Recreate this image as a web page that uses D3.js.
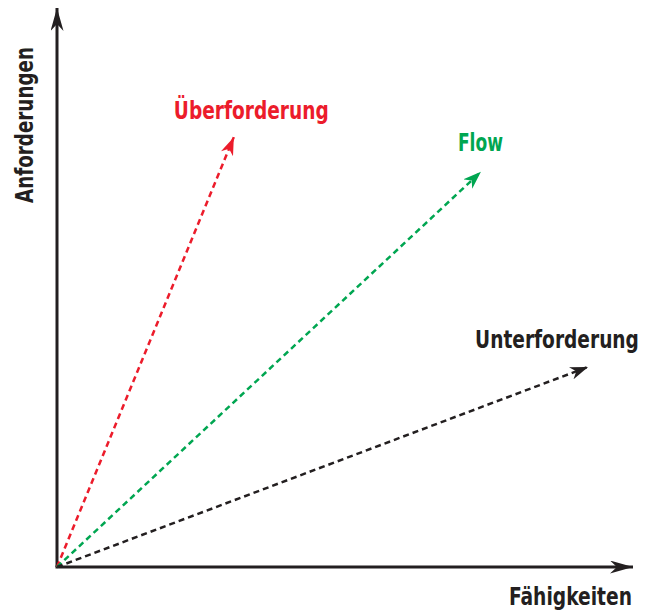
<!DOCTYPE html>
<html>
<head>
<meta charset="utf-8">
<script src="https://cdn.jsdelivr.net/npm/d3@7"></script>
<style>
  body { margin: 0; background: #fff; }
  text { font-family: "Liberation Sans Narrow", "DejaVu Sans Condensed", sans-serif; font-weight: bold; }
</style>
</head>
<body>
<div id="wrapper"></div>
<script>
// arrows: name, end point (skills, demands), colour
const arrowNames = ["Überforderung", "Flow", "Unterforderung"];
const arrowEndX = [3.07, 7.36, 9.22];
const arrowEndY = [7.69, 7.07, 3.58];
const arrowColors = ["#ec1c2b", "#00a651", "#231f20"];
const xLabel = "Fähigkeiten";
const yLabel = "Anforderungen";

function drawChart() {
  let dimensions = {
    width: 645,
    height: 612,
    margin: { top: 8, right: 12, bottom: 45, left: 57 }
  };
  dimensions.boundedWidth = dimensions.width - dimensions.margin.left - dimensions.margin.right;
  dimensions.boundedHeight = dimensions.height - dimensions.margin.top - dimensions.margin.bottom;

  const wrapper = d3.select("#wrapper")
    .append("svg")
    .attr("width", dimensions.width)
    .attr("height", dimensions.height);

  const defs = wrapper.append("defs");
  const addMarker = (id, color, len, w) => {
    defs.append("marker")
      .attr("id", id)
      .attr("markerUnits", "userSpaceOnUse")
      .attr("viewBox", `0 ${-w} ${len} ${2 * w}`)
      .attr("refX", len)
      .attr("refY", 0)
      .attr("markerWidth", len)
      .attr("markerHeight", 2 * w)
      .attr("orient", "auto")
      .append("path")
      .attr("d", `M0,${-w} L${len},0 L0,${w} L${len * 0.3},0 Z`)
      .attr("fill", color);
  };
  addMarker("axis-head", "#231f20", 23, 6.5);
  arrowColors.forEach((c, i) => addMarker("head-" + i, c, 18, 6.5));

  const bounds = wrapper.append("g")
    .attr("transform", `translate(${dimensions.margin.left},${dimensions.margin.top})`);

  const xScale = d3.scaleLinear()
    .domain([0, 10])
    .range([0, dimensions.boundedWidth]);
  const yScale = d3.scaleLinear()
    .domain([0, 10])
    .range([dimensions.boundedHeight, 0]);

  // axes
  bounds.append("line")
    .attr("x1", xScale(0)).attr("y1", yScale(0))
    .attr("x2", xScale(0)).attr("y2", yScale(10))
    .attr("stroke", "#231f20").attr("stroke-width", 3)
    .attr("marker-end", "url(#axis-head)");
  bounds.append("line")
    .attr("x1", xScale(0) - 1.5).attr("y1", yScale(0))
    .attr("x2", xScale(10)).attr("y2", yScale(0))
    .attr("stroke", "#231f20").attr("stroke-width", 3)
    .attr("marker-end", "url(#axis-head)");

  const arrows = arrowNames.map((name, i) => ({
    name, x: arrowEndX[i], y: arrowEndY[i], color: arrowColors[i], i
  }));

  bounds.selectAll(".arrow")
    .data(arrows)
    .enter()
    .append("line")
    .attr("class", "arrow")
    .attr("x1", xScale(0)).attr("y1", yScale(0))
    .attr("x2", d => xScale(d.x)).attr("y2", d => yScale(d.y))
    .attr("stroke", d => d.color)
    .attr("stroke-width", 2.5)
    .attr("stroke-dasharray", "6 4")
    .attr("marker-end", d => `url(#head-${d.i})`);

  // squeeze/stretch a text to a given width with a transform
  const fitText = (g, text, width) => {
    const t = g.append("text").style("font-size", "24px").text(text);
    const natural = t.node().getComputedTextLength();
    t.attr("transform", `scale(${width / natural},1)`);
    return t;
  };

  // labels next to the arrow heads
  const labelOffsets = [[-60, -18], [-23, -21], [-113, -19]];
  const labelWidths = [155, 45, 164];
  arrows.forEach(d => {
    const g = bounds.append("g")
      .attr("transform", `translate(${xScale(d.x) + labelOffsets[d.i][0]},${yScale(d.y) + labelOffsets[d.i][1]})`);
    fitText(g, d.name, labelWidths[d.i]).attr("fill", d.color);
  });

  const xg = bounds.append("g")
    .attr("transform", `translate(${xScale(10) - 124},${dimensions.boundedHeight + 38})`);
  fitText(xg, xLabel, 123).attr("fill", "#231f20");

  const yg = bounds.append("g")
    .attr("transform", `translate(${-24},${yScale(0) - 442}) rotate(-90) translate(-78,0)`);
  fitText(yg, yLabel, 156).attr("fill", "#231f20");
}

drawChart();
</script>
</body>
</html>
